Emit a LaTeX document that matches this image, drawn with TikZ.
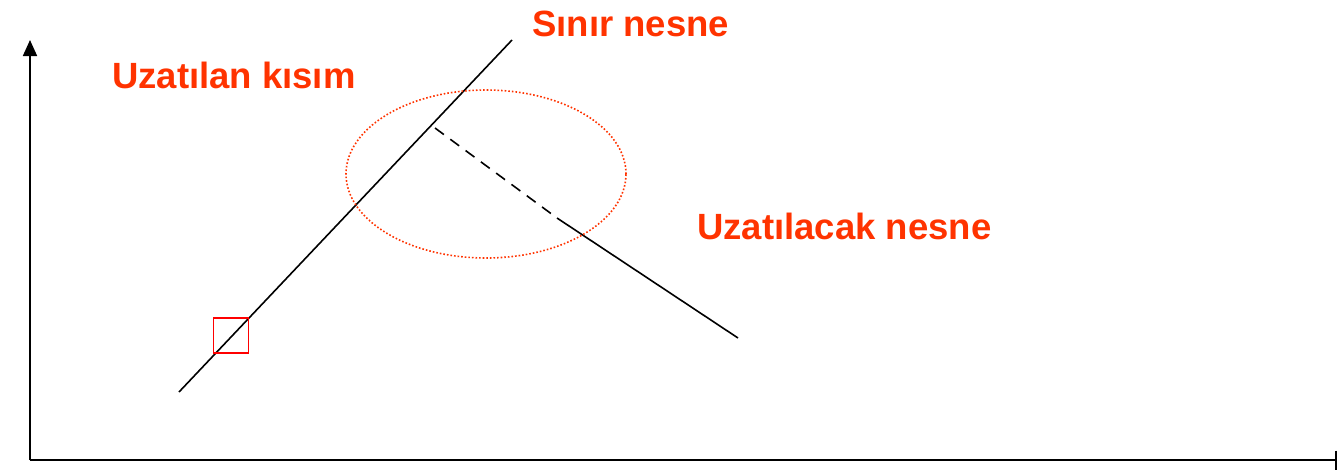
\documentclass[tikz,border=0pt]{standalone}
\usepackage{fontspec}
\setmainfont{Liberation Sans}
\usetikzlibrary{arrows.meta,shapes.geometric}
\definecolor{lbl}{HTML}{FF3300}
\begin{document}
\begin{tikzpicture}[x=1pt,y=-1pt,
  lbltext/.style={text=lbl,font=\bfseries\fontsize{36.5}{40}\selectfont,anchor=base west,inner sep=0pt},
  axis/.style={line width=1.8pt},
  obj/.style={line width=1.6pt}]
\useasboundingbox (0,0) rectangle (1339,469);
\coordinate (o) at (30,460);
\coordinate (yt) at (30,40);
\coordinate (xt) at (1337,460);
\draw[axis,-{Triangle[width=14pt,length=16pt]}] (o) -- (yt);
\draw[axis,-{Bar[width=19pt]}] (o) -- (xt);
\coordinate (b1) at (179,392);
\coordinate (b2) at (512,40);
\draw[obj] (b1) -- (b2);
\coordinate (e1) at (435,128);
\coordinate (e2) at (557,218);
\coordinate (e3) at (738,338);
\draw[obj,dash pattern=on 11pt off 8pt] (e1) -- (e2);
\draw[obj] (e2) -- (e3);
\node[draw=lbl,dotted,line width=1.6pt,ellipse,minimum width=280pt,minimum height=168pt,inner sep=0pt] (ell) at (486,174) {};
\node[draw=red,line width=1.8pt,minimum width=35pt,minimum height=35pt,inner sep=0pt] (sq) at (231,335.5) {};
\node[lbltext] (t1) at (112,88) {Uzatılan kısım};
\node[lbltext] (t2) at (532,36) {Sınır nesne};
\node[lbltext] (t3) at (697,239) {Uzatılacak nesne};
\end{tikzpicture}
\end{document}
